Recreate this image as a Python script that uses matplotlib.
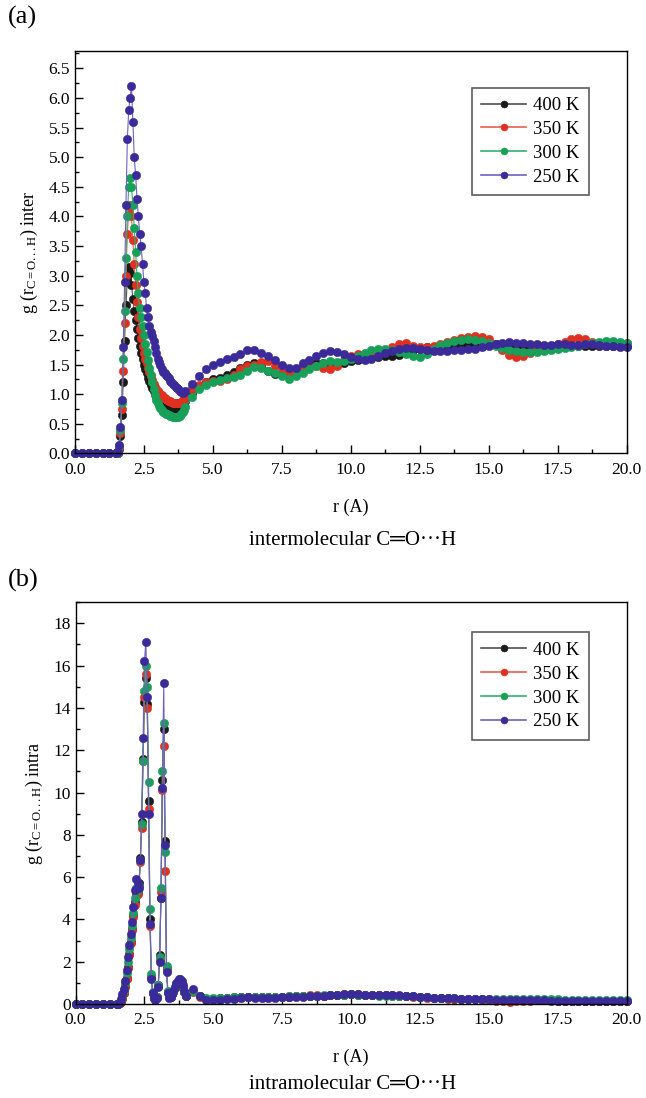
import numpy as np
import matplotlib
matplotlib.use("Agg")
import matplotlib.pyplot as plt
from matplotlib.ticker import MultipleLocator, FormatStrFormatter

plt.rcParams['font.family'] = ['Liberation Serif', 'DejaVu Serif']
plt.rcParams['mathtext.fontset'] = 'custom'
plt.rcParams['mathtext.rm'] = 'Liberation Serif'
plt.rcParams['mathtext.it'] = 'Liberation Serif:italic'

# --- r grids (A) ---
r_base = np.linspace(0.0, 1.25, 6)
r_peak = np.linspace(1.5, 3.95, 50)
r_tail = np.linspace(4.0, 20.0, 65)
r = np.concatenate([r_base, r_peak, r_tail])

labels = ['400 K', '350 K', '300 K', '250 K']
marker_colors = ['#1a1a1a', '#e03020', '#18a058', '#3a2a9a']
line_colors = ['#505050', '#e86050', '#30b070', '#7060c0']

base_zero = [0.0, 0.0, 0.0, 0.0, 0.0, 0.0]

# ===== (a) intermolecular =====
inter_peak_400 = [0.0, 0.01, 0.08, 0.3, 0.65, 1.2, 1.9, 2.5, 2.95, 3.15,
                  3.05, 2.85, 2.6, 2.4, 2.25, 2.1, 1.95, 1.82, 1.7, 1.6,
                  1.5, 1.42, 1.35, 1.28, 1.22, 1.16, 1.1, 1.05, 1.0, 0.96,
                  0.92, 0.89, 0.86, 0.84, 0.82, 0.8, 0.79, 0.78, 0.77, 0.77,
                  0.76, 0.76, 0.76, 0.76, 0.77, 0.78, 0.79, 0.81, 0.83, 0.85]
inter_peak_350 = [0.0, 0.01, 0.1, 0.35, 0.75, 1.4, 2.2, 3.0, 3.7, 4.1,
                  4.2, 4.0, 3.6, 3.2, 2.85, 2.55, 2.3, 2.1, 1.95, 1.82,
                  1.7, 1.6, 1.52, 1.45, 1.38, 1.3, 1.24, 1.18, 1.12, 1.08,
                  1.05, 1.02, 1.0, 0.98, 0.96, 0.94, 0.92, 0.9, 0.89, 0.88,
                  0.87, 0.86, 0.86, 0.85, 0.85, 0.85, 0.86, 0.87, 0.9, 0.92]
inter_peak_300 = [0.0, 0.01, 0.12, 0.4, 0.85, 1.6, 2.4, 3.3, 4.0, 4.5,
                  4.65, 4.5, 4.2, 3.8, 3.4, 3.0, 2.7, 2.45, 2.3, 2.15,
                  2.0, 1.85, 1.72, 1.58, 1.45, 1.32, 1.2, 1.08, 0.98, 0.9,
                  0.85, 0.8, 0.76, 0.73, 0.7, 0.68, 0.67, 0.66, 0.65, 0.64,
                  0.63, 0.62, 0.62, 0.61, 0.61, 0.62, 0.64, 0.67, 0.7, 0.74]
inter_peak_250 = [0.0, 0.02, 0.15, 0.45, 0.9, 1.8, 2.9, 4.2, 5.3, 5.8,
                  6.0, 6.2, 5.6, 5.0, 4.7, 4.3, 4.0, 3.7, 3.5, 3.2,
                  2.9, 2.7, 2.45, 2.3, 2.15, 2.05, 1.98, 1.9, 1.8, 1.7,
                  1.6, 1.55, 1.5, 1.42, 1.38, 1.35, 1.32, 1.3, 1.27, 1.23,
                  1.2, 1.17, 1.15, 1.12, 1.1, 1.08, 1.05, 1.03, 1.02, 1.03]

inter_tail_400 = [0.88, 1.02, 1.12, 1.2, 1.25, 1.28, 1.32, 1.38,
                  1.45, 1.5, 1.52, 1.48, 1.4, 1.34, 1.33, 1.36,
                  1.42, 1.48, 1.52, 1.53, 1.52, 1.5, 1.5, 1.53,
                  1.56, 1.58, 1.6, 1.62, 1.63, 1.64, 1.65, 1.67,
                  1.7, 1.74, 1.77, 1.79, 1.8, 1.81, 1.82, 1.83,
                  1.84, 1.85, 1.86, 1.86, 1.85, 1.84, 1.83, 1.82,
                  1.81, 1.81, 1.82, 1.82, 1.82, 1.82, 1.82, 1.82,
                  1.82, 1.82, 1.81, 1.81, 1.81, 1.81, 1.81, 1.81,
                  1.81]
inter_tail_350 = [0.95, 1.08, 1.15, 1.2, 1.22, 1.23, 1.25, 1.32,
                  1.42, 1.48, 1.5, 1.55, 1.56, 1.48, 1.38, 1.34,
                  1.38, 1.45, 1.5, 1.48, 1.45, 1.43, 1.48, 1.57,
                  1.65, 1.68, 1.66, 1.63, 1.66, 1.72, 1.8, 1.85,
                  1.86, 1.82, 1.8, 1.8, 1.82, 1.85, 1.88, 1.92,
                  1.95, 1.97, 1.98, 1.97, 1.93, 1.85, 1.75, 1.66,
                  1.62, 1.65, 1.7, 1.76, 1.8, 1.82, 1.84, 1.88,
                  1.93, 1.95, 1.93, 1.88, 1.84, 1.83, 1.84, 1.86,
                  1.86]
inter_tail_300 = [0.78, 0.95, 1.08, 1.15, 1.2, 1.24, 1.27, 1.29,
                  1.33, 1.4, 1.46, 1.45, 1.4, 1.35, 1.3, 1.26,
                  1.3, 1.36, 1.42, 1.48, 1.53, 1.56, 1.55, 1.56,
                  1.6, 1.65, 1.7, 1.75, 1.77, 1.76, 1.74, 1.71,
                  1.68, 1.65, 1.63, 1.68, 1.76, 1.83, 1.87, 1.9,
                  1.92, 1.93, 1.92, 1.9, 1.86, 1.82, 1.78, 1.75,
                  1.73, 1.72, 1.72, 1.72, 1.73, 1.74, 1.76, 1.78,
                  1.8, 1.82, 1.84, 1.86, 1.88, 1.89, 1.89, 1.88,
                  1.87]
inter_tail_250 = [1.05, 1.18, 1.3, 1.42, 1.5, 1.55, 1.6, 1.63,
                  1.68, 1.74, 1.75, 1.7, 1.65, 1.58, 1.5, 1.45,
                  1.45, 1.52, 1.58, 1.65, 1.7, 1.73, 1.72, 1.68,
                  1.63, 1.6, 1.57, 1.6, 1.65, 1.7, 1.73, 1.76,
                  1.78, 1.78, 1.77, 1.75, 1.73, 1.73, 1.73, 1.74,
                  1.75, 1.76, 1.77, 1.79, 1.82, 1.85, 1.87, 1.88,
                  1.87, 1.86, 1.85, 1.84, 1.83, 1.83, 1.84, 1.84,
                  1.83, 1.83, 1.84, 1.84, 1.83, 1.82, 1.81, 1.8,
                  1.79]

# ===== (b) intramolecular =====
intra_peak_400 = [0.0, 0.0, 0.04, 0.12, 0.28, 0.52, 0.85, 1.25, 1.75, 2.35,
                  2.95, 3.55, 4.2, 4.8, 5.2, 5.3, 5.7, 6.9, 8.6, 11.6,
                  14.3, 15.4, 14.2, 9.6, 4.0, 1.3, 0.5, 0.3, 0.25, 0.35,
                  0.9, 2.3, 5.0, 10.6, 13.0, 7.7, 1.7, 0.55, 0.35, 0.35,
                  0.45, 0.58, 0.74, 0.88, 0.98, 1.02, 1.0, 0.92, 0.78, 0.58]
intra_peak_350 = [0.0, 0.0, 0.03, 0.1, 0.25, 0.5, 0.8, 1.2, 1.7, 2.3,
                  2.9, 3.5, 4.1, 4.7, 5.1, 5.2, 5.6, 6.7, 8.3, 11.5,
                  14.5, 15.6, 14.0, 9.2, 3.7, 1.3, 0.5, 0.3, 0.25, 0.35,
                  0.85, 2.1, 5.3, 10.1, 12.2, 6.3, 1.6, 0.55, 0.35, 0.35,
                  0.45, 0.58, 0.75, 0.9, 1.0, 1.05, 1.05, 0.95, 0.8, 0.58]
intra_peak_300 = [0.0, 0.02, 0.08, 0.2, 0.4, 0.65, 1.0, 1.45, 2.0, 2.6,
                  3.1, 3.7, 4.3, 5.0, 5.5, 5.4, 5.6, 6.8, 8.5, 11.5,
                  14.8, 16.0, 15.0, 10.5, 4.5, 1.4, 0.55, 0.3, 0.25, 0.35,
                  0.9, 2.2, 5.5, 11.0, 13.3, 7.2, 1.8, 0.6, 0.35, 0.35,
                  0.45, 0.6, 0.78, 0.95, 1.05, 1.1, 1.1, 1.0, 0.82, 0.58]
intra_peak_250 = [0.0, 0.02, 0.1, 0.25, 0.45, 0.7, 1.1, 1.6, 2.2, 2.8,
                  3.3, 3.9, 4.6, 5.4, 5.9, 5.7, 5.5, 6.8, 9.0, 12.6,
                  16.2, 17.1, 14.5, 9.0, 3.8, 1.2, 0.5, 0.3, 0.2, 0.3,
                  0.8, 2.0, 5.0, 10.2, 15.2, 7.5, 1.5, 0.5, 0.3, 0.35,
                  0.45, 0.6, 0.8, 0.98, 1.1, 1.18, 1.2, 1.1, 0.9, 0.6]

intra_tail_400 = [0.36, 0.6, 0.36, 0.26, 0.26, 0.27, 0.29, 0.31,
                  0.33, 0.34, 0.33, 0.32, 0.32, 0.33, 0.34, 0.35,
                  0.36, 0.37, 0.38, 0.39, 0.4, 0.41, 0.42, 0.44,
                  0.45, 0.44, 0.43, 0.42, 0.42, 0.42, 0.41, 0.4,
                  0.38, 0.36, 0.34, 0.32, 0.3, 0.28, 0.27, 0.26,
                  0.25, 0.24, 0.23, 0.22, 0.21, 0.2, 0.19, 0.19,
                  0.18, 0.18, 0.18, 0.17, 0.17, 0.17, 0.16, 0.16,
                  0.16, 0.16, 0.15, 0.15, 0.15, 0.15, 0.15, 0.15,
                  0.15]
intra_tail_350 = [0.36, 0.58, 0.35, 0.25, 0.25, 0.26, 0.28, 0.3,
                  0.32, 0.33, 0.32, 0.31, 0.32, 0.33, 0.34, 0.36,
                  0.38, 0.4, 0.41, 0.41, 0.4, 0.41, 0.43, 0.45,
                  0.46, 0.45, 0.43, 0.42, 0.42, 0.41, 0.4, 0.38,
                  0.36, 0.34, 0.32, 0.3, 0.28, 0.27, 0.26, 0.25,
                  0.24, 0.23, 0.22, 0.2, 0.17, 0.14, 0.12, 0.11,
                  0.12, 0.14, 0.16, 0.17, 0.17, 0.17, 0.16, 0.15,
                  0.15, 0.15, 0.14, 0.14, 0.14, 0.14, 0.14, 0.14,
                  0.14]
intra_tail_300 = [0.38, 0.62, 0.38, 0.28, 0.27, 0.28, 0.3, 0.32,
                  0.34, 0.35, 0.34, 0.33, 0.33, 0.34, 0.35, 0.36,
                  0.37, 0.38, 0.39, 0.4, 0.41, 0.42, 0.43, 0.44,
                  0.45, 0.44, 0.42, 0.41, 0.4, 0.4, 0.4, 0.39,
                  0.38, 0.36, 0.34, 0.32, 0.3, 0.29, 0.28, 0.27,
                  0.26, 0.25, 0.25, 0.24, 0.24, 0.23, 0.23, 0.23,
                  0.23, 0.22, 0.22, 0.22, 0.22, 0.22, 0.22, 0.21,
                  0.21, 0.2, 0.2, 0.19, 0.19, 0.18, 0.18, 0.18,
                  0.18]
intra_tail_250 = [0.4, 0.72, 0.4, 0.18, 0.18, 0.2, 0.22, 0.26,
                  0.3, 0.32, 0.3, 0.28, 0.28, 0.3, 0.32, 0.33,
                  0.34, 0.35, 0.36, 0.38, 0.4, 0.42, 0.44, 0.46,
                  0.48, 0.47, 0.44, 0.42, 0.42, 0.43, 0.43, 0.42,
                  0.4, 0.38, 0.35, 0.32, 0.3, 0.29, 0.28, 0.27,
                  0.26, 0.25, 0.24, 0.23, 0.22, 0.21, 0.2, 0.2,
                  0.19, 0.18, 0.18, 0.17, 0.17, 0.16, 0.16, 0.15,
                  0.15, 0.15, 0.15, 0.14, 0.14, 0.14, 0.14, 0.14,
                  0.14]

inter_series = [base_zero + inter_peak_400 + inter_tail_400,
                base_zero + inter_peak_350 + inter_tail_350,
                base_zero + inter_peak_300 + inter_tail_300,
                base_zero + inter_peak_250 + inter_tail_250]
intra_series = [base_zero + intra_peak_400 + intra_tail_400,
                base_zero + intra_peak_350 + intra_tail_350,
                base_zero + intra_peak_300 + intra_tail_300,
                base_zero + intra_peak_250 + intra_tail_250]


def draw_panel(ax, series, ymax, ymajor, yminor, yfmt, ylabel, legend_anchor):
    for g, lab, mc, lc in zip(series, labels, marker_colors, line_colors):
        ax.plot(r, g, '-', color=lc, lw=0.8, marker='o', markersize=6,
                markerfacecolor=mc, markeredgecolor=mc, markeredgewidth=0.4,
                label=lab, clip_on=False)
    ax.set_xlim(0, 20)
    ax.set_ylim(0, ymax)
    ax.xaxis.set_major_locator(MultipleLocator(2.5))
    ax.xaxis.set_minor_locator(MultipleLocator(1.25))
    ax.xaxis.set_major_formatter(FormatStrFormatter('%.1f'))
    ax.yaxis.set_major_locator(MultipleLocator(ymajor))
    ax.yaxis.set_minor_locator(MultipleLocator(yminor))
    ax.yaxis.set_major_formatter(FormatStrFormatter(yfmt))
    ax.tick_params(which='both', direction='in', labelsize=12.5, width=1)
    ax.tick_params(which='major', length=6)
    ax.tick_params(which='minor', length=3)
    ax.tick_params(axis='x', pad=6)
    for s in ax.spines.values():
        s.set_linewidth(1.0)
    ax.set_xlabel('r (A)', fontsize=13, labelpad=15)
    ax.set_ylabel(ylabel, fontsize=13, labelpad=6)
    leg = ax.legend(loc='upper right', bbox_to_anchor=legend_anchor,
                    fontsize=13.5, frameon=True, fancybox=False, numpoints=1,
                    handlelength=2.4, labelspacing=0.36, borderpad=0.5,
                    handletextpad=0.35, borderaxespad=0)
    leg.get_frame().set_edgecolor('#333333')
    leg.get_frame().set_linewidth(1.2)
    for h in leg.legend_handles:
        h.set_markersize(5)
        h.set_linewidth(1.2)


fig = plt.figure(figsize=(6.46, 10.98), dpi=100)

ax1 = fig.add_axes([0.116, 0.587, 0.854, 0.367])
draw_panel(ax1, inter_series, 6.8, 0.5, 0.25, '%.1f',
           r'g (r$_{\mathrm{C=O...H}}$) inter', (0.931, 0.908))

ax2 = fig.add_axes([0.117, 0.0856, 0.853, 0.366])
draw_panel(ax2, intra_series, 19, 2, 1, '%d',
           r'g (r$_{\mathrm{C=O...H}}$) intra', (0.931, 0.925))

fig.text(0.012, 0.995, '(a)', fontsize=19, va='top', ha='left')
fig.text(0.012, 0.482, '(b)', fontsize=19, va='top', ha='left')
fig.text(0.545, 0.508, 'intermolecular C\u2550O\u00b7\u00b7\u00b7H', fontsize=15,
         ha='center', va='center')
fig.text(0.545, 0.012, 'intramolecular C\u2550O\u00b7\u00b7\u00b7H', fontsize=15,
         ha='center', va='center')

fig.savefig('out.png', dpi=100)
